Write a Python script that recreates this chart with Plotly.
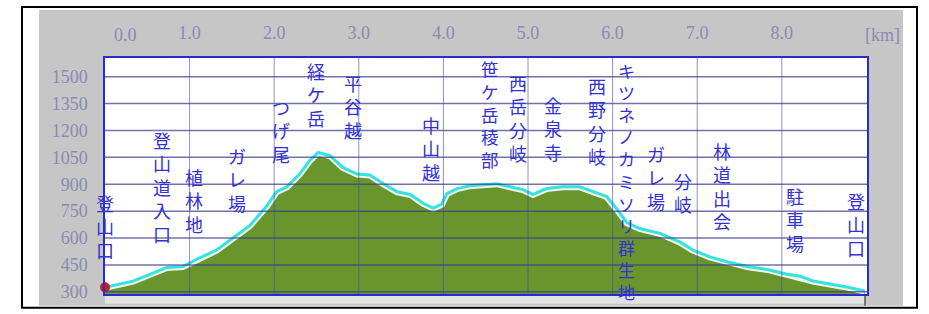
import plotly.graph_objects as go

# ---- data ----
track_km = [0.00, 0.33, 0.53, 0.73, 0.92, 1.12, 1.32, 1.51, 1.71, 1.91, 2.03, 2.15, 2.30, 2.42,
            2.52, 2.66, 2.81, 2.98, 3.13, 3.29, 3.45, 3.61, 3.76, 3.88, 3.98, 4.04, 4.16, 4.31,
            4.47, 4.63, 4.79, 4.94, 5.06, 5.22, 5.41, 5.61, 5.77, 5.93, 6.05, 6.17, 6.32, 6.56,
            6.80, 6.95, 7.15, 7.35, 7.59, 7.83, 8.06, 8.22, 8.37, 8.77, 8.98]
track_elev = [325, 360, 398, 436, 441, 490, 533, 599, 669, 778, 859, 886, 957, 1033,
              1077, 1060, 994, 957, 952, 903, 859, 843, 794, 767, 789, 848, 876, 892,
              897, 903, 886, 870, 843, 876, 886, 886, 859, 832, 762, 686, 653, 626,
              577, 533, 495, 468, 441, 425, 398, 387, 360, 327, 305]

waypoint_names = ["登山口", "登山道入口", "植林地", "ガレ場", "つげ尾", "経ケ岳", "平谷越", "中山越",
                  "笹ケ岳稜部", "西岳分岐", "金泉寺", "西野分岐", "キツネノカミソリ群生地", "ガレ場",
                  "分岐", "林道出会", "駐車場", "登山口"]
waypoint_km = [0.00, 0.67, 1.05, 1.56, 2.08, 2.49, 2.93, 3.85,
               4.55, 4.88, 5.30, 5.82, 6.16, 6.51,
               6.83, 7.29, 8.16, 8.88]

x_ticks = [0, 1, 2, 3, 4, 5, 6, 7, 8]
x_tick_labels = ["0.0", "1.0", "2.0", "3.0", "4.0", "5.0", "6.0", "7.0", "8.0"]
y_ticks = [300, 450, 600, 750, 900, 1050, 1200, 1350, 1500]
y_tick_labels = ["300", "450", "600", "750", "900", "1050", "1200", "1350", "1500"]

# ---- layout geometry (pixels) ----
W, H = 929, 314
PL, PR, PT, PB = 105, 867, 58, 299
X_RANGE = [0, 9.007]
Y_RANGE = [288, 1604]
label_top_px = [195, 130, 168, 147, 97, 60, 72, 115, 58, 72, 95, 75, 60, 145, 172, 142, 188, 193]
label_size = [18, 18, 18, 18, 18, 18, 18, 18, 17.5, 18, 18, 18, 17, 18, 18, 18, 18, 18]


def px_x(px):
    return (px - PL) / (PR - PL)


def px_y(py):
    return (PB - py) / (PB - PT)


tick_font = dict(family="Liberation Serif", size=18, color="#8a8ab4")
label_color = "#3232d2"

fig = go.Figure()

fig.add_trace(go.Scatter(
    x=track_km, y=track_elev, mode="lines", fill="tozeroy",
    fillcolor="rgb(104,150,44)", line=dict(color="rgba(255,255,255,0.9)", width=7),
    hoverinfo="skip", showlegend=False))
fig.add_trace(go.Scatter(
    x=track_km, y=track_elev, mode="lines",
    line=dict(color="#34e2e2", width=3), hoverinfo="skip", showlegend=False))
fig.add_trace(go.Scatter(
    x=[track_km[0]], y=[track_elev[0]], mode="markers",
    marker=dict(color="#c81e1e", size=10), cliponaxis=False,
    hoverinfo="skip", showlegend=False))

shapes = [
    # outer black frame
    dict(type="rect", xref="paper", yref="paper", layer="below",
         x0=px_x(22), x1=px_x(917), y0=px_y(313), y1=px_y(6),
         line=dict(color="black", width=2), fillcolor="white"),
    # gray panel
    dict(type="rect", xref="paper", yref="paper", layer="below",
         x0=px_x(39), x1=px_x(903), y0=px_y(311), y1=px_y(9),
         line=dict(width=0), fillcolor="#c6c6c6"),
    # light strip under the plot
    dict(type="rect", xref="paper", yref="paper", layer="below",
         x0=px_x(105), x1=px_x(865), y0=px_y(309), y1=px_y(299),
         line=dict(width=0), fillcolor="#e2e2e2"),
    dict(type="line", xref="paper", yref="paper", layer="below",
         x0=px_x(865), x1=px_x(865), y0=px_y(311), y1=px_y(299),
         line=dict(color="#555555", width=1.5)),
    # plot background
    dict(type="rect", xref="paper", yref="paper", layer="below",
         x0=0, x1=1, y0=0, y1=1, line=dict(width=0), fillcolor="white"),
]
for yv in y_ticks:
    shapes.append(dict(type="line", xref="x", yref="y", layer="above",
                       x0=X_RANGE[0], x1=X_RANGE[1], y0=yv, y1=yv,
                       line=dict(color="rgba(60,60,140,0.72)", width=1.5)))
for xv in x_ticks[1:]:
    shapes.append(dict(type="line", xref="x", yref="y", layer="above",
                       x0=xv, x1=xv, y0=Y_RANGE[0], y1=Y_RANGE[1],
                       line=dict(color="rgba(70,70,170,0.6)", width=1)))

annotations = []
for name, km, top, sz in zip(waypoint_names, waypoint_km, label_top_px, label_size):
    annotations.append(dict(
        x=km, xref="x", y=px_y(top - 4), yref="paper",
        text="<br>".join(list(name)), showarrow=False,
        xanchor="center", yanchor="top", align="center",
        font=dict(family="Noto Sans CJK JP", size=sz, color=label_color)))
# first x label sits a little right of the axis in the reference
annotations.append(dict(x=x_ticks[0], xref="x", y=px_y(35), yref="paper",
                        text=x_tick_labels[0], showarrow=False, xshift=20,
                        xanchor="center", yanchor="middle", font=tick_font))
annotations.append(dict(x=px_x(882), xref="paper", y=px_y(35), yref="paper",
                        text="[km]", showarrow=False,
                        xanchor="center", yanchor="middle", font=tick_font))

fig.update_layout(
    width=W, height=H,
    margin=dict(l=PL, r=W - PR, t=PT, b=H - PB, pad=0),
    paper_bgcolor="white", plot_bgcolor="rgba(0,0,0,0)",
    showlegend=False, shapes=shapes, annotations=annotations,
    xaxis=dict(range=X_RANGE, side="top", tickvals=x_ticks[1:], ticktext=x_tick_labels[1:],
               showgrid=False, zeroline=False, showline=True, mirror=True,
               linecolor="#2a2ad0", linewidth=1.5, ticks="", tickfont=tick_font,
               ticklabelstandoff=10, fixedrange=True),
    yaxis=dict(range=Y_RANGE, tickvals=y_ticks, ticktext=y_tick_labels,
               showgrid=False, zeroline=False, showline=True, mirror=True,
               linecolor="#2a2ad0", linewidth=1.5, ticks="", tickfont=tick_font,
               ticklabelstandoff=12, fixedrange=True),
)

fig.write_html("out.html", config={"displayModeBar": False},
               post_script="document.body.style.margin='0';document.body.style.overflow='hidden';")
